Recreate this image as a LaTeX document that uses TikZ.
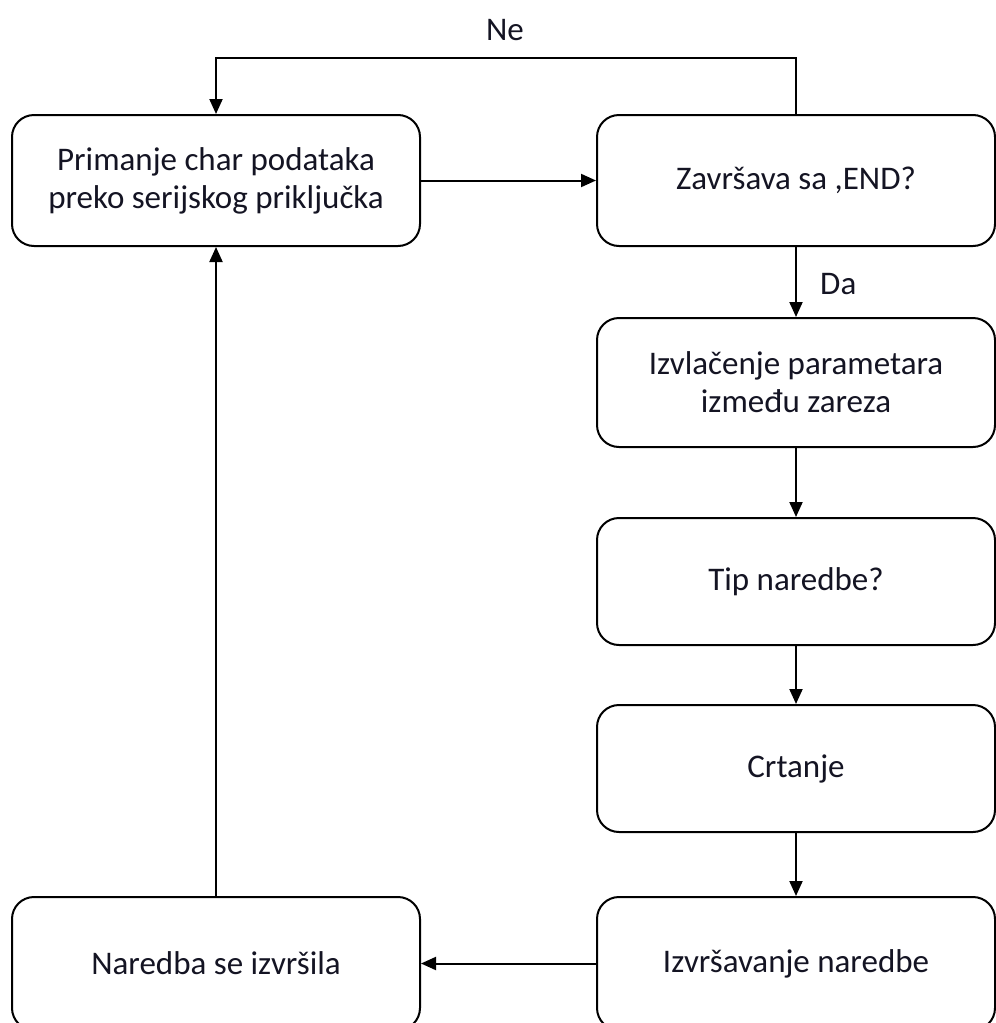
\documentclass[tikz,border=0pt]{standalone}
\usepackage{fontspec}
\setmainfont{Carlito}
\usetikzlibrary{arrows.meta}
\definecolor{txt}{RGB}{20,20,35}
\tikzset{
  box/.style={draw=black, line width=2pt, rounded corners=22pt, align=center,
    inner sep=0pt, text=txt, font=\fontsize{33}{38}\selectfont},
  conn/.style={draw=black, line width=2pt, -{Triangle[length=15pt,width=13pt]}},
  lbl/.style={text=txt, font=\fontsize{33}{38}\selectfont, inner sep=0pt}
}
\begin{document}
\begin{tikzpicture}[x=1pt,y=-1pt]
\useasboundingbox (0,0) rectangle (996,1023);
\clip (0,0) rectangle (996,1023);
\fill[white] (0,0) rectangle (996,1023);
\node[box, minimum width=408pt, minimum height=131pt] (A) at (216,180.5) {Primanje char podataka\\preko serijskog priključka};
\node[box, minimum width=398pt, minimum height=131pt] (B) at (796,180.5) {Završava sa ,END?};
\node[box, minimum width=398pt, minimum height=129pt] (C) at (796,382.5) {Izvlačenje parametara\\između zareza};
\node[box, minimum width=398pt, minimum height=127pt] (D) at (796,581.5) {Tip naredbe?};
\node[box, minimum width=398pt, minimum height=127pt] (E) at (796,768.5) {Crtanje};
\node[box, minimum width=398pt, minimum height=133pt] (F) at (796,963.5) {Izvršavanje naredbe};
\node[box, minimum width=408pt, minimum height=133pt] (G) at (216,963.5) {Naredba se izvršila};
\coordinate (t1) at (796,58);
\coordinate (t2) at (216,58);
\draw[conn] (B.north) -- (t1) -- (t2) -- (A.north);
\node[lbl] (ne) at (505,30) {Ne};
\draw[conn] (A.east) -- (B.west);
\draw[conn] (B.south) -- (C.north);
\node[lbl, anchor=west] (da) at (820,284) {Da};
\draw[conn] (C.south) -- (D.north);
\draw[conn] (D.south) -- (E.north);
\draw[conn] (E.south) -- (F.north);
\draw[conn] (F.west) -- (G.east);
\draw[conn] (G.north) -- (A.south);
\end{tikzpicture}
\end{document}
